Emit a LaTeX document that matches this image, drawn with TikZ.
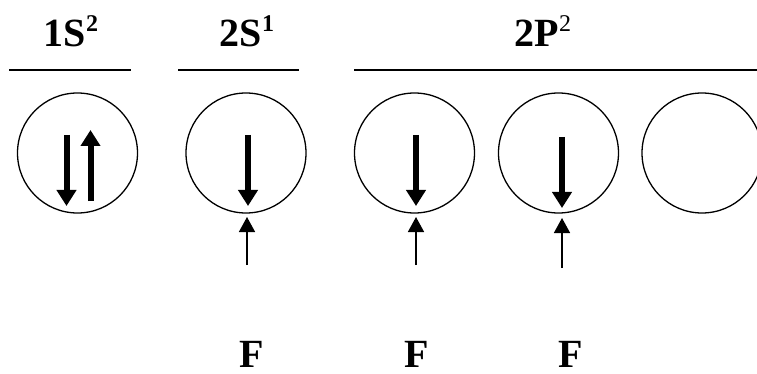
\documentclass[tikz,border=0pt]{standalone}
\usepackage{fontspec}
\setmainfont{Liberation Serif}
\usetikzlibrary{arrows.meta}
\newcommand{\supB}[1]{\raisebox{15pt}{\fontsize{24}{24}\selectfont\bfseries #1}}
\newcommand{\supR}[1]{\raisebox{15pt}{\fontsize{24}{24}\selectfont\mdseries #1}}
\tikzset{
  orb/.style={draw, circle, line width=1.3pt, minimum size=120pt, inner sep=0pt},
  lvl/.style={line width=1.6pt},
  lbl/.style={font=\fontsize{40}{48}\selectfont\bfseries, anchor=base, inner sep=0pt},
  spin/.style={line width=6pt, -{Triangle[width=19pt,length=16pt]}},
  bond/.style={line width=1.5pt, -{Triangle[width=16pt,length=15pt]}}
}
\begin{document}
\begin{tikzpicture}[x=1pt,y=-1pt]
\useasboundingbox (0,0) rectangle (757,374);
% labels
\node[lbl] (l1) at (71,47) {1S\supB{2}};
\node[lbl] (l2) at (247,47) {2S\supB{1}};
\node[lbl] (l3) at (543,47) {2P\supR{2}};
% level lines
\coordinate (a1) at (9,70); \coordinate (b1) at (131,70);
\coordinate (a2) at (178,70); \coordinate (b2) at (299,70);
\coordinate (a3) at (354,70); \coordinate (b3) at (757,70);
\draw[lvl] (a1) -- (b1);
\draw[lvl] (a2) -- (b2);
\draw[lvl] (a3) -- (b3);
% orbitals
\node[orb] (c1) at (77.5,153) {};
\node[orb] (c2) at (246,153) {};
\node[orb] (c3) at (414.5,153) {};
\node[orb] (c4) at (558.5,153) {};
\node[orb] (c5) at (702,153) {};
% spins
\coordinate (s1a) at (66.5,135); \coordinate (s1b) at (66.5,206);
\coordinate (s1c) at (90.5,201); \coordinate (s1d) at (90.5,130);
\coordinate (s2a) at (248,135); \coordinate (s2b) at (248,206);
\coordinate (s3a) at (416,135); \coordinate (s3b) at (416,206);
\coordinate (s4a) at (562,137); \coordinate (s4b) at (562,208);
\draw[spin] (s1a) -- (s1b);
\draw[spin] (s1c) -- (s1d);
\draw[spin] (s2a) -- (s2b);
\draw[spin] (s3a) -- (s3b);
\draw[spin] (s4a) -- (s4b);
% incoming electrons from F
\coordinate (e2a) at (247,265); \coordinate (e2b) at (247,217);
\coordinate (e3a) at (416,265); \coordinate (e3b) at (416,217);
\coordinate (e4a) at (562,268); \coordinate (e4b) at (562,218);
\draw[bond] (e2a) -- (e2b);
\draw[bond] (e3a) -- (e3b);
\draw[bond] (e4a) -- (e4b);
% F atoms
\node[lbl] (f1) at (251.5,367) {F};
\node[lbl] (f2) at (416.5,367) {F};
\node[lbl] (f3) at (570.5,367) {F};
\end{tikzpicture}
\end{document}
